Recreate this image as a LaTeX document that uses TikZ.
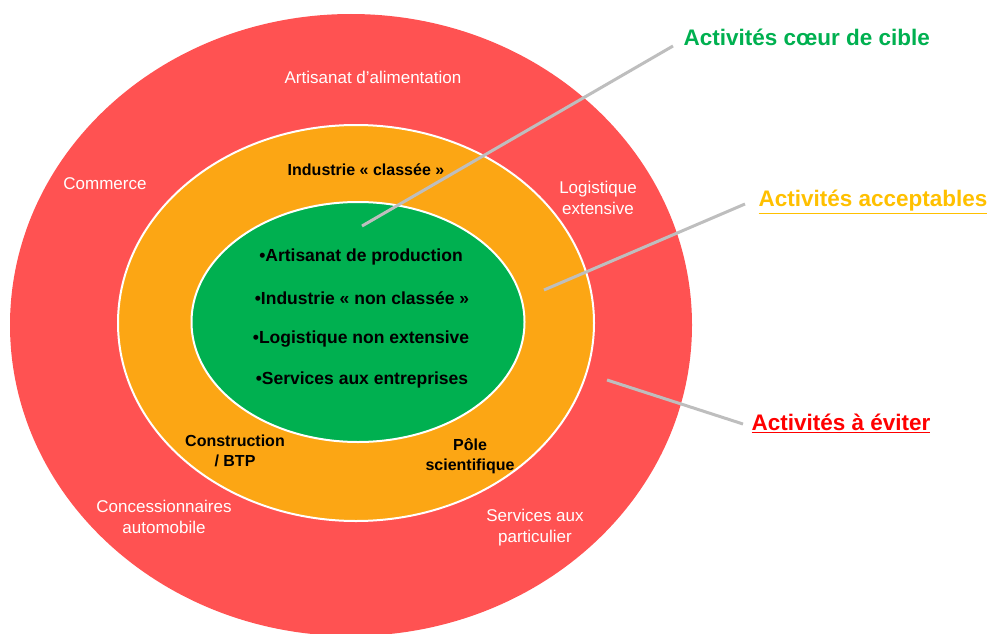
\documentclass[tikz,border=0pt]{standalone}
\usepackage{fontspec}
\setmainfont{Liberation Sans}
\usetikzlibrary{calc,shapes.geometric}
\definecolor{ringred}{RGB}{255,82,82}
\definecolor{ringorange}{RGB}{252,166,20}
\definecolor{ringgreen}{RGB}{0,176,80}
\definecolor{pointergray}{RGB}{190,190,190}
\definecolor{legendyellow}{RGB}{255,192,0}
\definecolor{legendred}{RGB}{255,0,0}
\tikzset{
	ring/.style={ellipse, inner sep=0pt},
	redtext/.style={text=white, align=center, font=\fontsize{17}{21}\selectfont},
	orangetext/.style={align=center, font=\bfseries\fontsize{16}{20}\selectfont},
	greentext/.style={font=\bfseries\fontsize{17.5}{20}\selectfont},
	legend/.style={anchor=west, font=\bfseries\fontsize{22.5}{26}\selectfont},
	pointer/.style={draw=pointergray, line width=3pt}
}

\begin{document}
\begin{tikzpicture}[x=1pt,y=-1pt]
				\useasboundingbox (0,0) rectangle (993,634);
				
				% rings
				\node[ring, fill=ringred, minimum width=682pt, minimum height=622pt] (outer) at (351,325) {};
				\node[ring, fill=ringorange, draw=white, line width=2pt, minimum width=476pt, minimum height=396pt] (middle) at (356,323) {};
				\node[ring, fill=ringgreen, draw=white, line width=2pt, minimum width=333pt, minimum height=240pt] (core) at (358,322) {};
				
				% outer ring
				\node[redtext] (alim) at (373,77) {Artisanat d'alimentation};
				\node[redtext] (commerce) at (105,184) {Commerce};
				\node[redtext] (logext) at (598,198) {Logistique\\extensive};
				\node[redtext] (concess) at (164,517) {Concessionnaires\\automobile};
				\node[redtext] (servpart) at (535,528) {Services aux\\particulier};
				
				% middle ring
				\node[orangetext] (classee) at (366,170) {Industrie « classée »};
				\node[orangetext] (btp) at (235,451) {Construction\\/ BTP};
				\node[orangetext] (pole) at (470,456) {Pôle\\scientifique};
				
				% core
				\node[greentext] (artprod) at (361,257) {•Artisanat de production};
				\node[greentext] (nonclassee) at (362,298) {•Industrie « non classée »};
				\node[greentext] (lognon) at (361,339) {•Logistique non extensive};
				\node[greentext] (servent) at (362,380) {•Services aux entreprises};
				
				% legend
				\node[legend, text=ringgreen] (coeur) at (680,37) {Activités cœur de cible};
				\node[legend, text=legendyellow] (accept) at (755,202) {\underline{Activités acceptables}};
				\node[legend, text=legendred] (eviter) at (748,423) {\underline{Activités à éviter}};
				
				\coordinate (coeurpt) at (362,226);
				\coordinate (acceptpt) at (544,290);
				\coordinate (eviterpt) at (607,380);
				\coordinate (coeurtip) at ($(coeur.west)+(-7,9)$);
				\coordinate (accepttip) at ($(accept.west)+(-10,2)$);
				\coordinate (evitertip) at ($(eviter.west)+(-5,1)$);
				\draw[pointer] (coeurpt) -- (coeurtip);
				\draw[pointer] (acceptpt) -- (accepttip);
				\draw[pointer] (eviterpt) -- (evitertip);
			\end{tikzpicture}
\end{document}
